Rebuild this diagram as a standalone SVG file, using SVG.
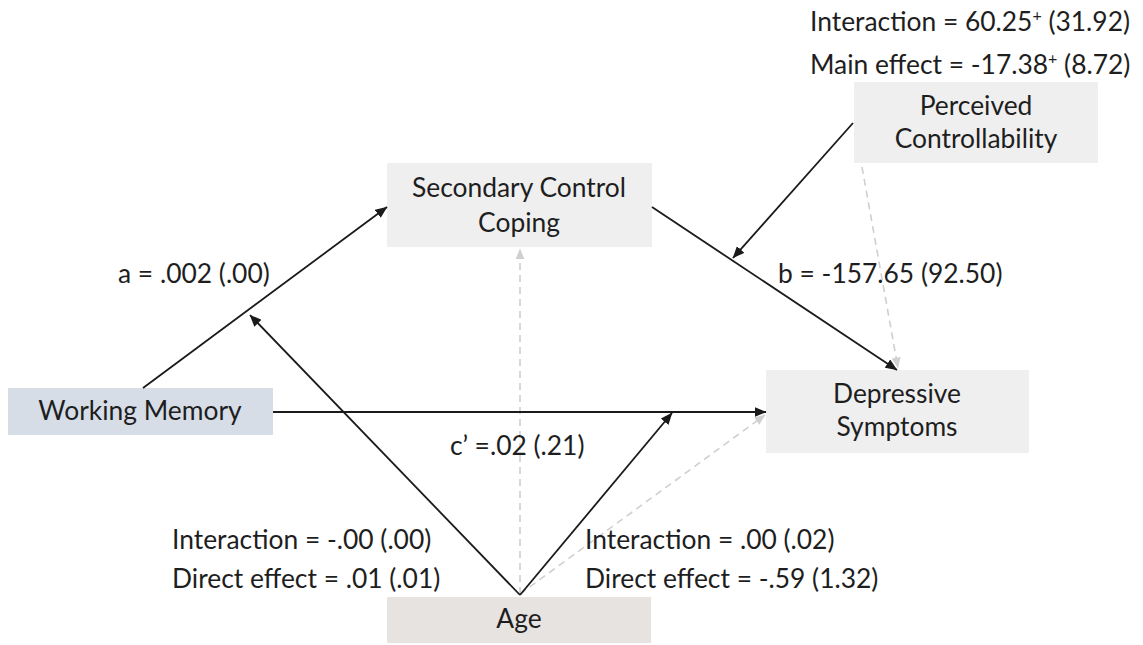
<svg xmlns="http://www.w3.org/2000/svg" width="1143" height="645" viewBox="0 0 1143 645">
  <style>
    text { font-family: Lato, "Liberation Sans", sans-serif; font-size: 26.4px; fill: #1e1e1e; }
    .node text { text-anchor: middle; }
    .box { fill: #efefef; }
    .wm { fill: #d6dde7; }
    .age { fill: #e6e3e1; }
    .solid { stroke: #1a1a1a; stroke-width: 1.8; fill: none; marker-end: url(#arrow); }
    .dash { stroke: #cfcfcf; stroke-width: 1.6; fill: none; stroke-dasharray: 7 5; marker-end: url(#arrowGray); }
    .sup { font-size: 16px; }
  </style>
  <defs>
    <marker id="arrow" viewBox="0 0 12 10" refX="11.5" refY="5" markerWidth="12" markerHeight="10" markerUnits="userSpaceOnUse" orient="auto">
      <path d="M0,0 L12,5 L0,10 Z" fill="#1a1a1a"/>
    </marker>
    <marker id="arrowGray" viewBox="0 0 12 10" refX="11.5" refY="5" markerWidth="11" markerHeight="9" markerUnits="userSpaceOnUse" orient="auto">
      <path d="M0,0 L12,5 L0,10 Z" fill="#d0d0d0"/>
    </marker>
  </defs>

  <rect width="1143" height="645" fill="#ffffff"/>

  <!-- nodes -->
  <g id="secondary-control-coping" class="node">
    <rect class="box" x="387" y="163" width="265" height="84"/>
    <text x="519" y="197">Secondary Control</text>
    <text x="519" y="232">Coping</text>
  </g>
  <g id="perceived-controllability" class="node">
    <rect class="box" x="854" y="82" width="244" height="81"/>
    <text x="976" y="115">Perceived</text>
    <text x="976" y="148">Controllability</text>
  </g>
  <g id="working-memory" class="node">
    <rect class="wm" x="8" y="388" width="265" height="47"/>
    <text x="140" y="420">Working Memory</text>
  </g>
  <g id="depressive-symptoms" class="node">
    <rect class="box" x="766" y="370" width="263" height="83"/>
    <text x="897" y="403">Depressive</text>
    <text x="897" y="436">Symptoms</text>
  </g>
  <g id="age" class="node">
    <rect class="age" x="387" y="597" width="264" height="46"/>
    <text x="519" y="628">Age</text>
  </g>

  <!-- connectors: solid paths and dashed moderation paths -->
  <g id="connectors">
    <line class="dash" x1="520" y1="594" x2="520" y2="249"/>
    <line class="dash" x1="520" y1="594" x2="765" y2="415"/>
    <line class="dash" x1="862" y1="167" x2="898" y2="368"/>
    <line class="solid" x1="143" y1="388" x2="387" y2="207"/>
    <line class="solid" x1="273" y1="412" x2="766" y2="412"/>
    <line class="solid" x1="652" y1="207" x2="897" y2="370"/>
    <line class="solid" x1="853" y1="123" x2="733" y2="258"/>
    <line class="solid" x1="520" y1="595" x2="250" y2="315"/>
    <line class="solid" x1="520" y1="595" x2="672" y2="413"/>
  </g>

  <!-- path estimates -->
  <g id="labels">
    <text x="810" y="31">Interaction = 60.25<tspan class="sup" dy="-10">+</tspan><tspan dy="10"> (31.92)</tspan></text>
    <text x="810" y="74">Main effect = -17.38<tspan class="sup" dy="-10">+</tspan><tspan dy="10"> (8.72)</tspan></text>
    <text x="118" y="283">a = .002 (.00)</text>
    <text x="778" y="283">b = -157.65 (92.50)</text>
    <text x="450" y="455">c’ =.02 (.21)</text>
    <text x="172" y="549">Interaction = -.00 (.00)</text>
    <text x="172" y="588">Direct effect = .01 (.01)</text>
    <text x="585" y="549">Interaction = .00 (.02)</text>
    <text x="585" y="588">Direct effect = -.59 (1.32)</text>
  </g>
</svg>
